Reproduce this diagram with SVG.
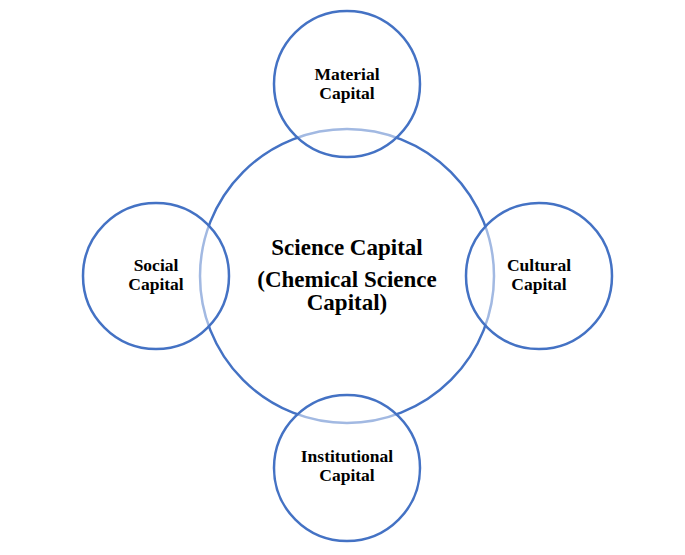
<svg xmlns="http://www.w3.org/2000/svg" width="685" height="555" viewBox="0 0 685 555">
<style>
.c{fill:none;stroke:#4472C4;stroke-width:2.5}
.s{fill:#fff;fill-opacity:0.5;stroke:#4472C4;stroke-width:2.5}
.t{font-family:"Liberation Serif","Times New Roman",serif;font-weight:bold;font-size:17.5px;text-anchor:middle;fill:#000}
.tb{font-family:"Liberation Serif","Times New Roman",serif;font-weight:bold;font-size:23px;text-anchor:middle;fill:#000}
</style>
<rect width="685" height="555" fill="#fff"/>
<g id="connectors"></g>
<g id="science">
<circle class="c" cx="347" cy="276" r="147"/>
<text class="tb" x="347" y="255">Science Capital</text>
<text class="tb" x="347" y="287">(Chemical Science</text>
<text class="tb" x="347" y="310">Capital)</text>
</g>
<g id="material">
<circle class="s" cx="347" cy="84" r="73"/>
<text class="t" x="347" y="80">Material</text>
<text class="t" x="347" y="99">Capital</text>
</g>
<g id="social">
<circle class="s" cx="156" cy="276" r="73"/>
<text class="t" x="156" y="271">Social</text>
<text class="t" x="156" y="290">Capital</text>
</g>
<g id="cultural">
<circle class="s" cx="539" cy="276" r="73"/>
<text class="t" x="539" y="271">Cultural</text>
<text class="t" x="539" y="290">Capital</text>
</g>
<g id="institutional">
<circle class="s" cx="347" cy="468" r="73"/>
<text class="t" x="347" y="462">Institutional</text>
<text class="t" x="347" y="481">Capital</text>
</g>
</svg>
